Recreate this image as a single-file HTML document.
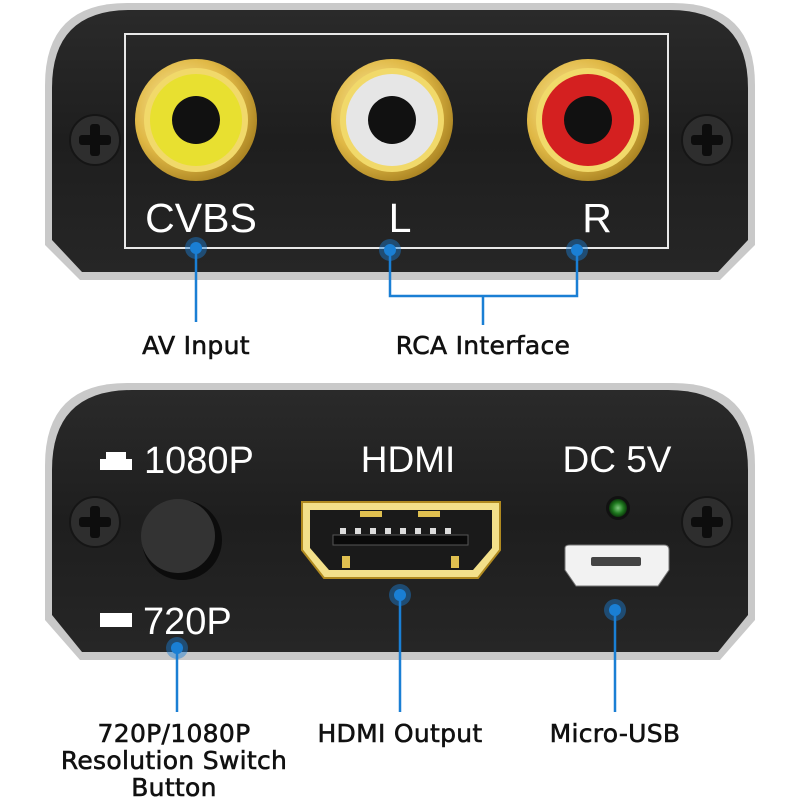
<!DOCTYPE html>
<html><head><meta charset="utf-8"><style>
html,body{margin:0;padding:0;background:#fff;width:800px;height:800px;overflow:hidden}
svg{display:block}
.w{fill:#fff;font-family:"Liberation Sans",sans-serif}
.lb{fill:#111;font-family:"DejaVu Sans","Liberation Sans",sans-serif;font-size:25px;letter-spacing:0.3px;stroke:#111;stroke-width:0.6px}
</style></head><body>
<svg width="800" height="800" viewBox="0 0 800 800" xmlns="http://www.w3.org/2000/svg">
<defs>
<linearGradient id="blk" x1="0" y1="0" x2="0" y2="1"><stop offset="0" stop-color="#2a2a2a"/><stop offset="0.5" stop-color="#1e1e1e"/><stop offset="1" stop-color="#262626"/></linearGradient>
<radialGradient id="gold" cx="0.4" cy="0.4" r="0.7"><stop offset="0" stop-color="#fff3b0"/><stop offset="0.6" stop-color="#e0b845"/><stop offset="1" stop-color="#9a7418"/></radialGradient>
<radialGradient id="led" cx="0.5" cy="0.5" r="0.5"><stop offset="0" stop-color="#7fc87f"/><stop offset="0.6" stop-color="#1f7a1f"/><stop offset="1" stop-color="#0c3a0c"/></radialGradient>
<g id="screw"><circle r="25" fill="#2e2e2e" stroke="#151515" stroke-width="2"/><rect x="-16" y="-5" width="32" height="10" rx="3" fill="#0d0d0d"/><rect x="-5" y="-16" width="10" height="32" rx="3" fill="#0d0d0d"/></g>
</defs>

<path d="M45,245 L45,85 Q45,3 127,3 L673,3 Q755,3 755,85 L755,245 L720,280 L80,280 Z" fill="#c9c9c9"/>
<path d="M52,240 L52,88 Q52,10 130,10 L670,10 Q748,10 748,88 L748,240 L718,272 L82,272 Z" fill="url(#blk)"/>
<rect x="125" y="34" width="543" height="214" fill="none" stroke="#e8e8e8" stroke-width="2"/>
<use href="#screw" x="95" y="140"/>
<use href="#screw" x="707" y="140"/>
<g transform="translate(196,120)"><circle r="61" fill="url(#gold)"/><circle r="52" fill="#f1d96a"/><circle r="46" fill="#e8e030"/><circle r="24" fill="#111"/></g>
<g transform="translate(392,120)"><circle r="61" fill="url(#gold)"/><circle r="52" fill="#f1d96a"/><circle r="46" fill="#e6e6e6"/><circle r="24" fill="#111"/></g>
<g transform="translate(588,120)"><circle r="61" fill="url(#gold)"/><circle r="52" fill="#f1d96a"/><circle r="46" fill="#d42020"/><circle r="24" fill="#111"/></g>
<text class="w" x="201" y="232" font-size="41" text-anchor="middle">CVBS</text>
<text class="w" x="400" y="232" font-size="41" text-anchor="middle">L</text>
<text class="w" x="597" y="232" font-size="41" text-anchor="middle">R</text>

<g stroke="#1a7fd4" stroke-width="2.5" fill="none">
<path d="M196,248 L196,322"/>
<path d="M390,250 L390,296 L577,296 L577,250"/>
<path d="M483,296 L483,325"/>
</g>
<g fill="#1a7fd4"><circle cx="196" cy="248" r="11" opacity="0.45"/><circle cx="196" cy="248" r="6"/>
<circle cx="390" cy="250" r="11" opacity="0.45"/><circle cx="390" cy="250" r="6"/>
<circle cx="577" cy="250" r="11" opacity="0.45"/><circle cx="577" cy="250" r="6"/></g>
<text class="lb" x="196" y="354" text-anchor="middle">AV Input</text>
<text class="lb" x="483" y="354" text-anchor="middle">RCA Interface</text>

<path d="M45,620 L45,465 Q45,383 127,383 L673,383 Q755,383 755,465 L755,620 L720,660 L80,660 Z" fill="#c9c9c9"/>
<path d="M52,615 L52,470 Q52,390 132,390 L668,390 Q748,390 748,470 L748,615 L718,652 L82,652 Z" fill="url(#blk)"/>
<use href="#screw" x="95" y="522"/>
<use href="#screw" x="707" y="522"/>
<path d="M100,470 L100,459 L106,459 L106,452 L126,452 L126,459 L132,459 L132,470 Z" fill="#fff"/>
<text class="w" x="144" y="473" font-size="38">1080P</text>
<rect x="100" y="613" width="32" height="14" fill="#fff"/>
<text class="w" x="143" y="634" font-size="38">720P</text>
<circle cx="182" cy="540" r="40" fill="#0c0c0c"/>
<circle cx="178" cy="536" r="37" fill="#333"/>
<text class="w" x="408" y="472" font-size="37" text-anchor="middle">HDMI</text>
<text class="w" x="617" y="472" font-size="37" text-anchor="middle">DC 5V</text>
<path d="M302,502 L500,502 L500,550 L478,578 L324,578 L302,550 Z" fill="#f3e08a" stroke="#b08a20" stroke-width="2"/>
<path d="M310,510 L492,510 L492,548 L473,570 L329,570 L310,548 Z" fill="#1a1a1a"/>
<rect x="333" y="535" width="135" height="10" fill="#0a0a0a" stroke="#555" stroke-width="1"/>
<g fill="#ddd"><rect x="340" y="528" width="6" height="6"/><rect x="355" y="528" width="6" height="6"/><rect x="370" y="528" width="6" height="6"/><rect x="385" y="528" width="6" height="6"/><rect x="400" y="528" width="6" height="6"/><rect x="415" y="528" width="6" height="6"/><rect x="430" y="528" width="6" height="6"/><rect x="445" y="528" width="6" height="6"/></g>
<rect x="360" y="511" width="22" height="6" fill="#e0c050"/><rect x="418" y="511" width="22" height="6" fill="#e0c050"/>
<rect x="342" y="556" width="8" height="12" fill="#e0c050"/><rect x="451" y="556" width="8" height="12" fill="#e0c050"/>
<circle cx="618" cy="508" r="12" fill="#111"/>
<circle cx="618" cy="508" r="9" fill="url(#led)"/>
<path d="M565,548 Q565,545 570,545 L664,545 Q669,545 669,550 L669,570 L658,586 L576,586 L565,570 Z" fill="#f2f2f2" stroke="#777" stroke-width="1"/>
<rect x="591" y="557" width="50" height="9" rx="2" fill="#444"/>

<g stroke="#1a7fd4" stroke-width="2.5" fill="none">
<path d="M177,648 L177,712"/>
<path d="M400,595 L400,712"/>
<path d="M615,610 L615,712"/>
</g>
<g fill="#1a7fd4"><circle cx="177" cy="648" r="11" opacity="0.45"/><circle cx="177" cy="648" r="6"/>
<circle cx="400" cy="595" r="11" opacity="0.45"/><circle cx="400" cy="595" r="6"/>
<circle cx="615" cy="610" r="11" opacity="0.45"/><circle cx="615" cy="610" r="6"/></g>
<text class="lb" x="174" y="742" text-anchor="middle">720P/1080P</text>
<text class="lb" x="174" y="769" text-anchor="middle">Resolution Switch</text>
<text class="lb" x="174" y="796" text-anchor="middle">Button</text>
<text class="lb" x="400" y="742" text-anchor="middle">HDMI Output</text>
<text class="lb" x="615" y="742" text-anchor="middle">Micro-USB</text>
</svg>
</body></html>
